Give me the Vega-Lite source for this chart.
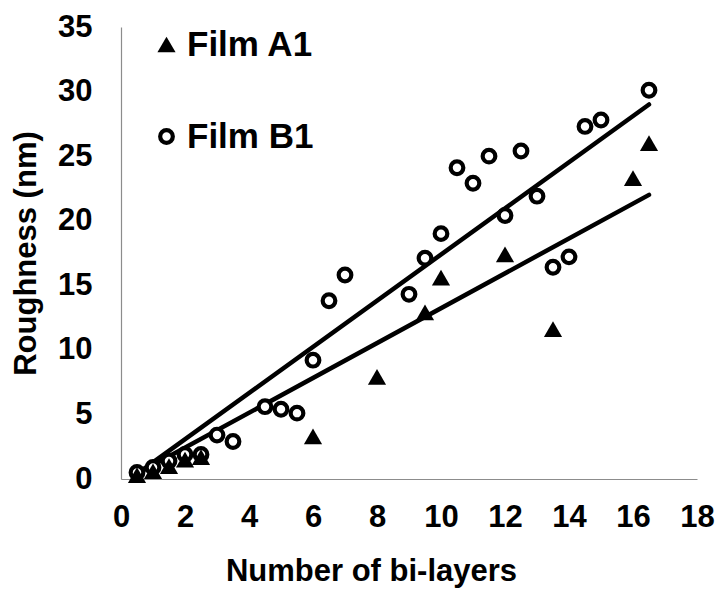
{
  "$schema": "https://vega.github.io/schema/vega-lite/v6.json",
  "width": 576,
  "height": 452,
  "autosize": {"type": "none"},
  "padding": {"left": 121, "top": 27, "right": 22, "bottom": 111},
  "background": "white",
  "config": {
    "view": {"stroke": null},
    "font": "Liberation Sans",
    "axis": {
      "labelFont": "Liberation Sans",
      "labelFontWeight": "bold",
      "labelFontSize": 31,
      "labelColor": "black",
      "titleFont": "Liberation Sans",
      "titleFontWeight": "bold",
      "titleFontSize": 31,
      "titleColor": "black",
      "domainColor": "#8c8c8c",
      "domainWidth": 1.2,
      "ticks": false,
      "grid": false
    }
  },
  "datasets": {
    "points": [
      {"series": "Film B1", "layers": 0.5, "roughness": 0.5},
      {"series": "Film B1", "layers": 1, "roughness": 0.9},
      {"series": "Film B1", "layers": 1.5, "roughness": 1.4},
      {"series": "Film B1", "layers": 2, "roughness": 1.9},
      {"series": "Film B1", "layers": 2.5, "roughness": 1.9},
      {"series": "Film B1", "layers": 3, "roughness": 3.4},
      {"series": "Film B1", "layers": 3.5, "roughness": 2.9},
      {"series": "Film B1", "layers": 4.5, "roughness": 5.6},
      {"series": "Film B1", "layers": 5, "roughness": 5.4},
      {"series": "Film B1", "layers": 5.5, "roughness": 5.1},
      {"series": "Film B1", "layers": 6, "roughness": 9.2},
      {"series": "Film B1", "layers": 6.5, "roughness": 13.8},
      {"series": "Film B1", "layers": 7, "roughness": 15.8},
      {"series": "Film B1", "layers": 9, "roughness": 14.3},
      {"series": "Film B1", "layers": 9.5, "roughness": 17.1},
      {"series": "Film B1", "layers": 10, "roughness": 19.0},
      {"series": "Film B1", "layers": 10.5, "roughness": 24.1},
      {"series": "Film B1", "layers": 11, "roughness": 22.9},
      {"series": "Film B1", "layers": 11.5, "roughness": 25.0},
      {"series": "Film B1", "layers": 12, "roughness": 20.4},
      {"series": "Film B1", "layers": 12.5, "roughness": 25.4},
      {"series": "Film B1", "layers": 13, "roughness": 21.9},
      {"series": "Film B1", "layers": 13.5, "roughness": 16.4},
      {"series": "Film B1", "layers": 14, "roughness": 17.2},
      {"series": "Film B1", "layers": 14.5, "roughness": 27.3},
      {"series": "Film B1", "layers": 15, "roughness": 27.8},
      {"series": "Film B1", "layers": 16.5, "roughness": 30.1},
      {"series": "Film A1", "layers": 0.5, "roughness": 0.3},
      {"series": "Film A1", "layers": 1, "roughness": 0.6},
      {"series": "Film A1", "layers": 1.5, "roughness": 1.0},
      {"series": "Film A1", "layers": 2, "roughness": 1.5},
      {"series": "Film A1", "layers": 2.5, "roughness": 1.7},
      {"series": "Film A1", "layers": 6, "roughness": 3.3},
      {"series": "Film A1", "layers": 8, "roughness": 7.9},
      {"series": "Film A1", "layers": 9.5, "roughness": 12.9},
      {"series": "Film A1", "layers": 10, "roughness": 15.6},
      {"series": "Film A1", "layers": 12, "roughness": 17.4},
      {"series": "Film A1", "layers": 13.5, "roughness": 11.6},
      {"series": "Film A1", "layers": 16, "roughness": 23.3},
      {"series": "Film A1", "layers": 16.5, "roughness": 26.0}
    ],
    "trends": [
      {"series": "Film A1", "layers": 0.5, "roughness": 0.4},
      {"series": "Film A1", "layers": 16.5, "roughness": 22.0},
      {"series": "Film B1", "layers": 0.5, "roughness": 0.4},
      {"series": "Film B1", "layers": 16.5, "roughness": 29.0}
    ]
  },
  "encoding": {
    "x": {
      "field": "layers",
      "type": "quantitative",
      "scale": {"domain": [0, 18], "nice": false, "zero": false},
      "axis": {
        "title": "Number of bi-layers",
        "values": [0, 2, 4, 6, 8, 10, 12, 14, 16, 18],
        "labelPadding": 23,
        "titlePadding": 24,
        "titleX": 250,
        "labelFlush": false
      }
    },
    "y": {
      "field": "roughness",
      "type": "quantitative",
      "scale": {"domain": [0, 35], "nice": false, "zero": false},
      "axis": {
        "title": "Roughness (nm)",
        "values": [0, 5, 10, 15, 20, 25, 30, 35],
        "labelPadding": 29,
        "titlePadding": 15,
        "labelFlush": false
      }
    }
  },
  "layer": [
    {
      "data": {"name": "trends"},
      "mark": {"type": "line", "color": "black", "strokeWidth": 4.5, "strokeCap": "round"},
      "encoding": {"detail": {"field": "series", "type": "nominal"}}
    },
    {
      "data": {"name": "points"},
      "mark": {"type": "point", "stroke": "black", "opacity": 1},
      "encoding": {
        "shape": {
          "field": "series",
          "type": "nominal",
          "scale": {"domain": ["Film A1", "Film B1"], "range": ["triangle-up", "circle"]},
          "legend": {
            "title": null,
            "orient": "none",
            "legendX": 28,
            "legendY": 0,
            "padding": 0,
            "labelFont": "Liberation Sans",
            "labelFontWeight": "bold",
            "labelFontSize": 35,
            "labelColor": "black",
            "labelOffset": 3,
            "rowPadding": 56,
            "symbolType": "circle",
            "encode": {
              "symbols": {
                "update": {
                  "size": {"signal": "datum.value === 'Film A1' ? 230 : 95"},
                  "strokeWidth": {"signal": "datum.value === 'Film A1' ? 0 : 3.8"},
                  "fill": {"signal": "datum.value === 'Film A1' ? 'black' : 'white'"},
                  "stroke": {"value": "black"}
                }
              }
            }
          }
        },
        "fill": {
          "field": "series",
          "type": "nominal",
          "scale": {"domain": ["Film A1", "Film B1"], "range": ["black", "white"]}
        },
        "size": {
          "field": "series",
          "type": "nominal",
          "scale": {"domain": ["Film A1", "Film B1"], "range": [330, 160]}
        },
        "strokeWidth": {
          "field": "series",
          "type": "nominal",
          "scale": {"domain": ["Film A1", "Film B1"], "range": [0, 4.2]}
        }
      }
    }
  ]
}
